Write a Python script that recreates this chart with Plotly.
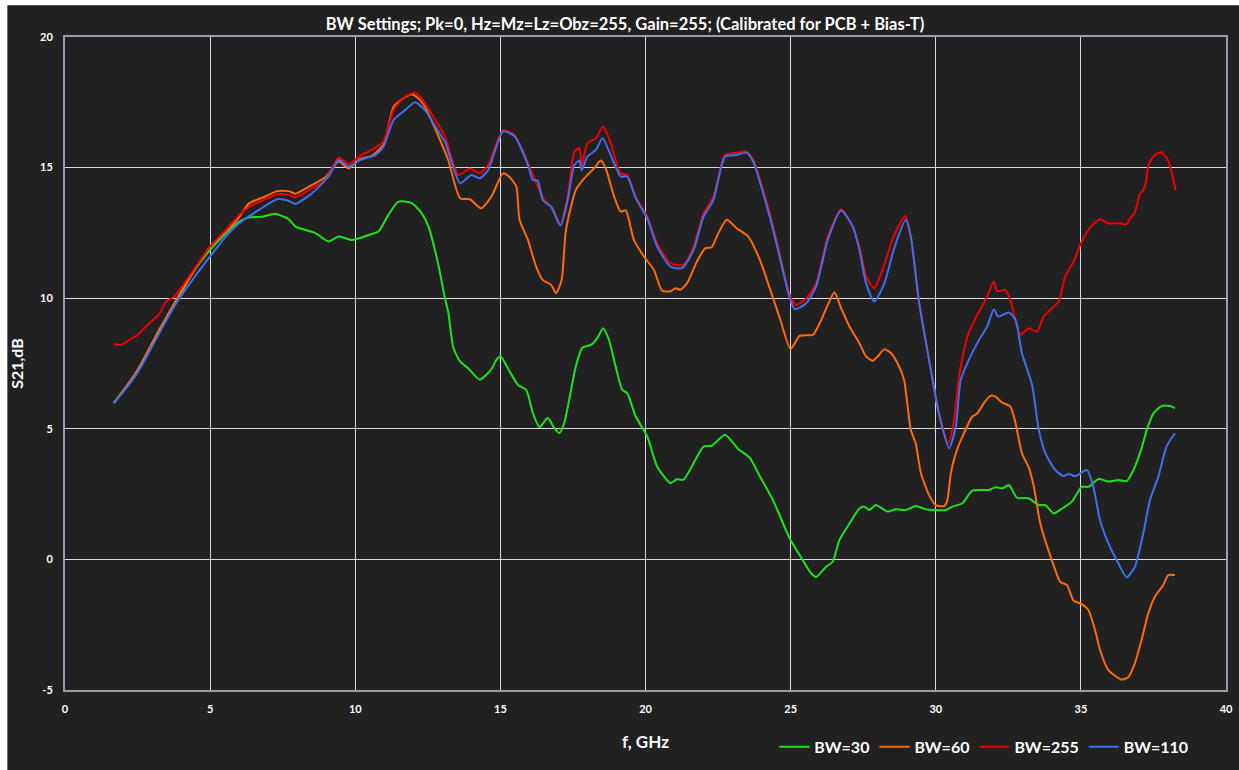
import plotly.graph_objects as go

# Frequency (GHz) / S21 (dB) traces for each bandwidth setting
f_bw30 = [1.68, 2.0, 2.5, 3.25, 3.82, 4.39, 5.0, 5.54, 6.0, 6.34, 6.8, 7.25, 7.71, 7.94, 8.63, 9.08, 9.43,
          9.89, 10.46, 10.8, 11.14, 11.49, 11.95, 12.29, 12.52, 12.86, 13.09, 13.21, 13.38, 13.61, 13.89,
          14.29, 14.69, 14.86, 15.01, 15.32, 15.61, 15.89, 16.12, 16.35, 16.63, 16.86, 17.03, 17.2, 17.37,
          17.6, 17.83, 18.12, 18.34, 18.54, 18.74, 18.97, 19.2, 19.37, 19.66, 20.06, 20.4, 20.86, 21.08,
          21.31, 21.66, 22.0, 22.28, 22.74, 23.2, 23.6, 23.94, 24.4, 24.97, 25.42, 25.71, 25.88, 26.22,
          26.45, 26.68, 27.03, 27.37, 27.54, 27.71, 27.94, 28.34, 28.63, 28.97, 29.31, 29.66, 30.34, 30.57,
          30.92, 31.26, 31.83, 32.06, 32.29, 32.52, 32.8, 33.2, 33.55, 33.78, 34.06, 34.35, 34.69, 35.03,
          35.26, 35.61, 35.95, 36.29, 36.58, 36.81, 37.09, 37.27, 37.5, 37.78, 38.07, 38.24]
s_bw30 = [5.98, 6.45, 7.2, 8.79, 9.82, 10.96, 11.85, 12.49, 12.93, 13.1, 13.12, 13.23, 13.02, 12.74, 12.49,
          12.17, 12.36, 12.23, 12.42, 12.55, 13.19, 13.7, 13.64, 13.25, 12.75, 11.3, 10.0, 9.43, 8.1, 7.58,
          7.32, 6.88, 7.28, 7.64, 7.77, 7.19, 6.68, 6.49, 5.6, 5.06, 5.41, 5.03, 4.83, 5.22, 6.11, 7.39, 8.11,
          8.21, 8.47, 8.85, 8.41, 7.39, 6.49, 6.37, 5.48, 4.71, 3.56, 2.92, 3.07, 3.05, 3.69, 4.32, 4.35,
          4.77, 4.22, 3.88, 3.18, 2.25, 0.8, -0.03, -0.54, -0.67, -0.28, -0.09, 0.74, 1.38, 1.95, 2.02, 1.89,
          2.08, 1.83, 1.92, 1.89, 2.04, 1.92, 1.89, 2.02, 2.15, 2.63, 2.66, 2.76, 2.72, 2.85, 2.36, 2.34,
          2.08, 2.08, 1.76, 1.95, 2.21, 2.78, 2.78, 3.08, 2.98, 3.04, 3.0, 3.42, 4.25, 4.96, 5.59, 5.87,
          5.87, 5.79]

f_bw60 = [1.68, 2.0, 2.5, 3.25, 3.76, 4.39, 5.0, 5.54, 6.0, 6.34, 6.8, 7.31, 7.71, 7.94, 8.51, 8.97, 9.43,
          9.77, 10.17, 10.57, 10.97, 11.32, 11.72, 11.95, 12.18, 12.4, 12.87, 13.2, 13.61, 13.95, 14.33,
          14.69, 15.09, 15.32, 15.55, 15.66, 15.95, 16.23, 16.46, 16.75, 16.92, 17.11, 17.26, 17.6, 17.89,
          18.23, 18.46, 18.63, 18.92, 19.14, 19.32, 19.6, 19.95, 20.29, 20.57, 20.86, 21.03, 21.2, 21.43,
          21.77, 22.05, 22.28, 22.51, 22.8, 23.14, 23.54, 23.94, 24.28, 24.63, 25.0, 25.31, 25.77, 26.0,
          26.28, 26.51, 26.74, 27.03, 27.37, 27.6, 27.83, 28.0, 28.23, 28.46, 28.74, 28.91, 29.14, 29.31,
          29.49, 29.77, 30.0, 30.29, 30.4, 30.52, 30.69, 30.92, 31.26, 31.43, 31.66, 31.89, 32.06, 32.29,
          32.57, 32.75, 32.97, 33.2, 33.38, 33.6, 34.0, 34.29, 34.52, 34.75, 35.03, 35.26, 35.49, 35.66,
          35.95, 36.41, 36.64, 36.86, 37.09, 37.32, 37.55, 37.84, 38.01, 38.24]
s_bw60 = [5.98, 6.45, 7.25, 8.79, 9.8, 10.96, 11.98, 12.55, 13.1, 13.63, 13.85, 14.1, 14.1, 14.0, 14.34,
          14.63, 15.23, 14.97, 15.33, 15.45, 15.87, 17.33, 17.7, 17.8, 17.65, 17.33, 16.19, 15.3, 13.83,
          13.79, 13.44, 13.89, 14.78, 14.63, 14.27, 13.0, 12.23, 11.21, 10.7, 10.51, 10.19, 10.7, 12.61,
          14.15, 14.59, 14.97, 15.27, 14.97, 13.89, 13.32, 13.36, 12.23, 11.59, 11.08, 10.29, 10.26, 10.38,
          10.32, 10.57, 11.4, 11.91, 11.95, 12.49, 13.0, 12.68, 12.36, 11.47, 10.38, 9.23, 8.05, 8.56, 8.6,
          9.04, 9.74, 10.23, 9.62, 8.91, 8.28, 7.77, 7.61, 7.77, 8.05, 7.89, 7.38, 6.87, 4.96, 4.44, 3.3,
          2.46, 2.08, 2.04, 2.27, 3.3, 4.06, 4.7, 5.47, 5.59, 5.98, 6.27, 6.23, 6.0, 5.85, 5.21, 4.06, 3.53,
          2.78, 1.38, -0.03, -0.86, -0.98, -1.58, -1.71, -1.94, -2.71, -3.47, -4.24, -4.6, -4.5, -3.98,
          -3.09, -2.07, -1.43, -0.98, -0.6, -0.6]

f_bw255 = [1.68, 1.93, 2.22, 2.51, 2.79, 3.25, 3.48, 3.76, 4.39, 5.0, 5.54, 6.0, 6.34, 6.8, 7.31, 7.71,
           7.94, 8.51, 8.97, 9.43, 9.77, 10.17, 10.57, 10.97, 11.32, 11.72, 12.04, 12.18, 12.4, 13.09,
           13.55, 13.95, 14.29, 14.58, 15.09, 15.49, 15.95, 16.23, 16.52, 16.8, 17.07, 17.32, 17.55, 17.72,
           17.8, 18.0, 18.29, 18.54, 18.8, 19.14, 19.37, 19.66, 20.06, 20.4, 20.86, 21.31, 21.66, 22.0,
           22.34, 22.74, 23.14, 23.48, 23.71, 24.28, 24.51, 24.97, 25.19, 25.54, 25.88, 26.28, 26.74,
           27.08, 27.37, 27.6, 27.88, 28.17, 28.57, 28.95, 29.14, 29.43, 29.77, 30.11, 30.43, 30.63, 30.8,
           31.09, 31.43, 31.72, 32.0, 32.12, 32.4, 32.57, 32.92, 33.2, 33.49, 33.72, 34.23, 34.46, 34.75,
           35.03, 35.37, 35.66, 35.94, 36.34, 36.57, 36.69, 36.86, 37.03, 37.15, 37.26, 37.32, 37.49,
           37.76, 38.01, 38.13, 38.26]
s_bw255 = [8.25, 8.21, 8.41, 8.6, 8.92, 9.4, 9.87, 10.06, 11.02, 11.98, 12.61, 13.19, 13.5, 13.74, 13.98,
           13.95, 13.86, 14.21, 14.53, 15.38, 15.14, 15.45, 15.68, 16.0, 17.2, 17.72, 17.87, 17.78, 17.46,
           16.19, 14.72, 14.97, 14.78, 15.1, 16.42, 16.25, 15.17, 14.43, 13.76, 13.44, 12.81, 13.89, 15.61,
           15.74, 15.04, 15.93, 16.12, 16.57, 15.93, 14.78, 14.72, 13.89, 13.12, 12.1, 11.34, 11.28, 11.98,
           13.25, 13.89, 15.48, 15.57, 15.61, 15.29, 13.25, 12.23, 10.13, 9.74, 10.0, 10.57, 12.36, 13.41,
           12.87, 11.98, 10.83, 10.38, 11.09, 12.43, 13.15, 12.36, 9.81, 7.64, 5.59, 4.44, 5.34, 7.0, 8.53,
           9.36, 9.94, 10.64, 10.26, 10.32, 9.94, 8.6, 8.85, 8.72, 9.3, 9.87, 10.83, 11.4, 12.17, 12.77,
           13.02, 12.87, 12.87, 12.83, 13.05, 13.28, 13.98, 14.14, 14.55, 15.06, 15.42, 15.6, 15.26, 14.81,
           14.13]

f_bw110 = [1.68, 2.0, 2.5, 3.25, 3.76, 4.39, 5.0, 5.54, 6.0, 6.68, 7.31, 7.71, 7.94, 8.51, 9.08, 9.43,
           9.77, 10.17, 10.69, 10.97, 11.32, 11.72, 12.06, 12.4, 12.97, 13.09, 13.61, 14.0, 14.29, 14.58,
           15.09, 15.49, 15.95, 16.12, 16.29, 16.46, 16.75, 17.07, 17.32, 17.55, 17.72, 17.8, 18.0, 18.29,
           18.52, 18.8, 19.14, 19.37, 19.66, 20.06, 20.4, 20.86, 21.26, 21.66, 22.0, 22.34, 22.74, 23.14,
           23.48, 23.71, 24.28, 24.51, 24.97, 25.14, 25.54, 25.88, 26.28, 26.74, 27.14, 27.37, 27.6, 27.88,
           28.23, 28.57, 28.97, 29.14, 29.43, 29.77, 30.11, 30.46, 30.69, 30.86, 31.14, 31.49, 31.77, 32.0,
           32.15, 32.52, 32.75, 32.97, 33.32, 33.55, 33.78, 34.12, 34.4, 34.58, 34.81, 35.21, 35.43, 35.66,
           35.95, 36.29, 36.58, 36.86, 37.15, 37.38, 37.67, 37.95, 38.24]
s_bw110 = [5.98, 6.4, 7.15, 8.66, 9.68, 10.7, 11.6, 12.36, 12.87, 13.38, 13.79, 13.72, 13.61, 14.02, 14.66,
           15.29, 15.04, 15.29, 15.48, 15.8, 16.82, 17.2, 17.5, 17.2, 16.19, 16.0, 14.4, 14.72, 14.59, 14.9,
           16.38, 16.2, 15.1, 14.53, 14.5, 13.76, 13.5, 12.78, 13.76, 15.1, 15.27, 14.89, 15.42, 15.68,
           16.12, 15.48, 14.66, 14.66, 13.83, 13.06, 11.98, 11.21, 11.15, 11.85, 13.12, 13.76, 15.42, 15.48,
           15.57, 15.23, 13.12, 12.11, 10.0, 9.58, 9.81, 10.45, 12.23, 13.36, 12.75, 11.85, 10.57, 9.87,
           10.57, 11.92, 13.0, 12.36, 9.81, 7.64, 5.59, 4.25, 5.08, 6.87, 7.64, 8.4, 8.91, 9.58, 9.3, 9.45,
           9.17, 7.89, 6.68, 4.96, 4.06, 3.42, 3.19, 3.27, 3.19, 3.42, 2.78, 1.5, 0.61, -0.15, -0.69, -0.28,
           1.0, 2.27, 3.17, 4.32, 4.83]

series = [
    ("BW=30", f_bw30, s_bw30, "#1fe21f"),
    ("BW=60", f_bw60, s_bw60, "#ff6a0a"),
    ("BW=255", f_bw255, s_bw255, "#f20000"),
    ("BW=110", f_bw110, s_bw110, "#3f6ff0"),
]

x_ticks = [0, 5, 10, 15, 20, 25, 30, 35, 40]
y_ticks = [-5, 0, 5, 10, 15, 20]

FONT = "Lato, 'Open Sans', sans-serif"
BG = "#212121"

# figure and plot-area geometry in pixels
W, H = 1239, 770
ML, MR, MT, MB = 65, 6, 37, 76
PW, PH = W - ML - MR, H - MT - MB

# dark backdrop: leaves a thin white edge along the top and left of the figure
bx0, by0 = 7, 5  # left / top edge of the backdrop in pixels

fig = go.Figure()
for name, fx, sy, color in series:
    fig.add_trace(go.Scatter(
        x=fx, y=sy, name=name, mode="lines",
        line=dict(color=color, width=2, shape="spline", smoothing=0.6),
    ))

fig.update_layout(
    width=W, height=H,
    margin=dict(l=ML, r=MR, t=MT, b=MB),
    paper_bgcolor="#ffffff",
    plot_bgcolor=BG,
    font=dict(family=FONT, color="#ffffff", size=11, weight="bold"),
    title=dict(
        text="BW Settings; Pk=0, Hz=Mz=Lz=Obz=255, Gain=255; (Calibrated for PCB + Bias-T)",
        x=625 / W, xref="container", xanchor="center",
        y=1 - 24 / H, yref="container", yanchor="middle",
        font=dict(family=FONT, size=16.5, color="#ffffff", weight="bold"),
    ),
    showlegend=True,
    legend=dict(
        orientation="h", x=0.611, xanchor="left", y=-0.087, yanchor="middle",
        font=dict(family=FONT, size=16, color="#ffffff", weight="bold"),
        bgcolor="rgba(0,0,0,0)", itemwidth=30, tracegroupgap=0,
    ),
    shapes=[dict(
        type="rect", xref="paper", yref="paper", layer="below",
        x0=(bx0 - ML) / PW, x1=(W + 10 - ML) / PW,
        y0=-(MB + 10) / PH, y1=(H - MB - by0) / PH,
        fillcolor=BG, line=dict(width=0),
    )],
)

fig.update_xaxes(
    range=[0, 40], tickvals=x_ticks, ticktext=[str(v) for v in x_ticks],
    showgrid=True, gridcolor="#dcdcdc", gridwidth=1,
    showline=True, linecolor="#9a9aae", linewidth=2, mirror=True,
    zeroline=False, ticks="", ticklabelstandoff=8,
    tickfont=dict(family=FONT, size=11, color="#ffffff", weight="bold"),
    title=dict(text="f, GHz", standoff=22,
               font=dict(family=FONT, size=17, color="#ffffff", weight="bold")),
)
fig.update_yaxes(
    range=[-5, 20], tickvals=y_ticks, ticktext=[str(v) for v in y_ticks],
    showgrid=True, gridcolor="#dcdcdc", gridwidth=1,
    showline=True, linecolor="#9a9aae", linewidth=2, mirror=True,
    zeroline=False, ticks="", ticklabelstandoff=8,
    tickfont=dict(family=FONT, size=11, color="#ffffff", weight="bold"),
    title=dict(text="S21,dB", standoff=12,
               font=dict(family=FONT, size=16, color="#ffffff", weight="bold")),
)

fig.write_html("out.html")
